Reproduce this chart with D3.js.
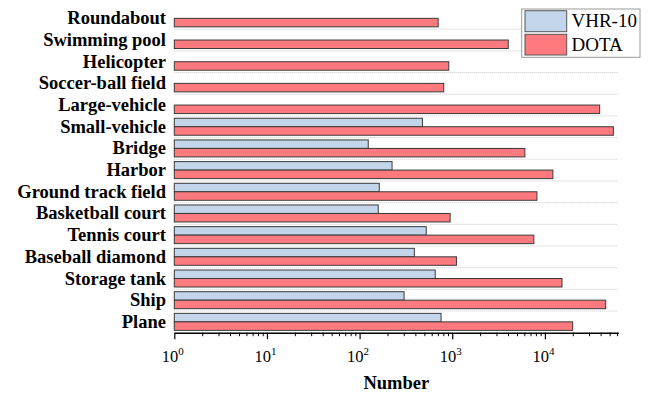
<!DOCTYPE html>
<html>
<head>
<meta charset="utf-8">
<script src="https://cdn.jsdelivr.net/npm/d3@7"></script>
<style>
  html, body { margin: 0; padding: 0; background: #fff; }
  svg { display: block; }
</style>
</head>
<body>
<svg id="chart" width="654" height="393"></svg>
<script>
// Object categories, listed top to bottom
const categories = [
  "Roundabout", "Swimming pool", "Helicopter", "Soccer-ball field",
  "Large-vehicle", "Small-vehicle", "Bridge", "Harbor",
  "Ground track field", "Basketball court", "Tennis court",
  "Baseball diamond", "Storage tank", "Ship", "Plane"
];
// Instance counts per category (null = class not present in the dataset)
const vhr10 = [null, null, null, null, null, 477, 124, 224, 163, 159, 524, 390, 655, 302, 757];
const dota  = [705, 4020, 917, 809, 39000, 54800, 6080, 12200, 8200, 949, 7600, 1110, 15300, 45300, 19950];
const seriesNames = ["VHR-10", "DOTA"];
const seriesColors = ["#c2d5ea", "#ff7a7f"];
const majorTicks = [1, 10, 100, 1000, 10000];

const svg = d3.select("#chart");
const serif = "'Liberation Serif', 'Times New Roman', serif";

const x = d3.scaleLog().domain([1, 62000]).range([174.3, 618.3]);
const y = d3.scaleBand().domain(categories).range([7.5, 332.7])
  .paddingInner(0.216).paddingOuter(0.108);
const ySub = d3.scaleBand().domain(seriesNames).range([0, y.bandwidth()]);

// Dotted guide lines between categories
const gap = y.step() - y.bandwidth();
svg.append("g").selectAll("line")
  .data(categories.slice(1))
  .join("line")
  .attr("x1", x.range()[0]).attr("x2", x.range()[1])
  .attr("y1", d => y(d) - gap / 2).attr("y2", d => y(d) - gap / 2)
  .attr("stroke", "#c8c8c8").attr("stroke-width", 1)
  .attr("stroke-dasharray", "1,1");

// Bars
const rows = [];
categories.forEach((c, i) => {
  rows.push({ cat: c, series: "VHR-10", value: vhr10[i], color: seriesColors[0] });
  rows.push({ cat: c, series: "DOTA", value: dota[i], color: seriesColors[1] });
});
svg.append("g").selectAll("rect")
  .data(rows.filter(r => r.value != null))
  .join("rect")
  .attr("x", x(1))
  .attr("y", d => y(d.cat) + ySub(d.series))
  .attr("width", d => x(d.value) - x(1))
  .attr("height", ySub.bandwidth())
  .attr("fill", d => d.color)
  .attr("stroke", "#3a3a3a")
  .attr("stroke-width", 1);

// Category labels
svg.append("g").selectAll("text")
  .data(categories)
  .join("text")
  .attr("x", 166)
  .attr("y", d => y(d) + y.bandwidth() / 2 + 6)
  .attr("text-anchor", "end")
  .attr("font-family", serif)
  .attr("font-weight", "bold")
  .attr("font-size", "18.5px")
  .attr("fill", "#000")
  .text(d => d);

// Bottom axis: minor ticks
const axisY = 332.7;
const minorTicks = [];
for (let e = 0; e <= 4; e++) {
  for (let m = 2; m <= 9; m++) {
    const v = m * Math.pow(10, e);
    if (v <= x.domain()[1]) minorTicks.push(v);
  }
}
svg.append("g")
  .attr("transform", `translate(0,${axisY})`)
  .call(d3.axisBottom(x).tickValues(minorTicks).tickSize(3.5).tickFormat(""))
  .call(g => g.select(".domain").remove())
  .call(g => g.selectAll(".tick line").attr("stroke", "#000").attr("stroke-width", 1));

// Bottom axis: major ticks with power-of-ten labels
const axisG = svg.append("g")
  .attr("transform", `translate(0,${axisY})`)
  .call(d3.axisBottom(x).tickValues(majorTicks).tickSize(6.5).tickSizeOuter(0).tickFormat(""));
axisG.select(".domain").attr("stroke", "#000").attr("stroke-width", 1.4);
axisG.selectAll(".tick line").attr("stroke", "#000").attr("stroke-width", 1.2);
axisG.selectAll(".tick").each(function (d) {
  const t = d3.select(this).append("text")
    .attr("y", 29)
    .attr("text-anchor", "middle")
    .attr("font-family", serif)
    .attr("fill", "#000")
    .attr("x", -2);
  t.append("tspan").attr("font-size", "16.5px").text("10");
  t.append("tspan").attr("font-size", "11px").attr("dy", -7)
    .text(Math.round(Math.log10(d)));
});

// Axis title
svg.append("text")
  .attr("x", (x.range()[0] + x.range()[1]) / 2)
  .attr("y", 389)
  .attr("text-anchor", "middle")
  .attr("font-family", serif)
  .attr("font-weight", "bold")
  .attr("font-size", "18.5px")
  .attr("fill", "#000")
  .text("Number");

// Legend
const legend = svg.append("g");
legend.append("rect")
  .attr("x", 521.7).attr("y", 9).attr("width", 118.3).attr("height", 48.3)
  .attr("fill", "#fff").attr("stroke", "#999").attr("stroke-width", 1);
const legendRows = [
  { name: seriesNames[0], color: seriesColors[0], y: 10.7, h: 21, base: 27.3 },
  { name: seriesNames[1], color: seriesColors[1], y: 34.3, h: 20.7, base: 50.7 }
];
legendRows.forEach(r => {
  legend.append("rect")
    .attr("x", 525).attr("y", r.y).attr("width", 41.7).attr("height", r.h)
    .attr("fill", r.color).attr("stroke", "#555").attr("stroke-width", 1);
  legend.append("text")
    .attr("x", 571.5).attr("y", r.base)
    .attr("font-family", serif).attr("font-size", "19px").attr("fill", "#000")
    .text(r.name);
});
</script>
</body>
</html>
